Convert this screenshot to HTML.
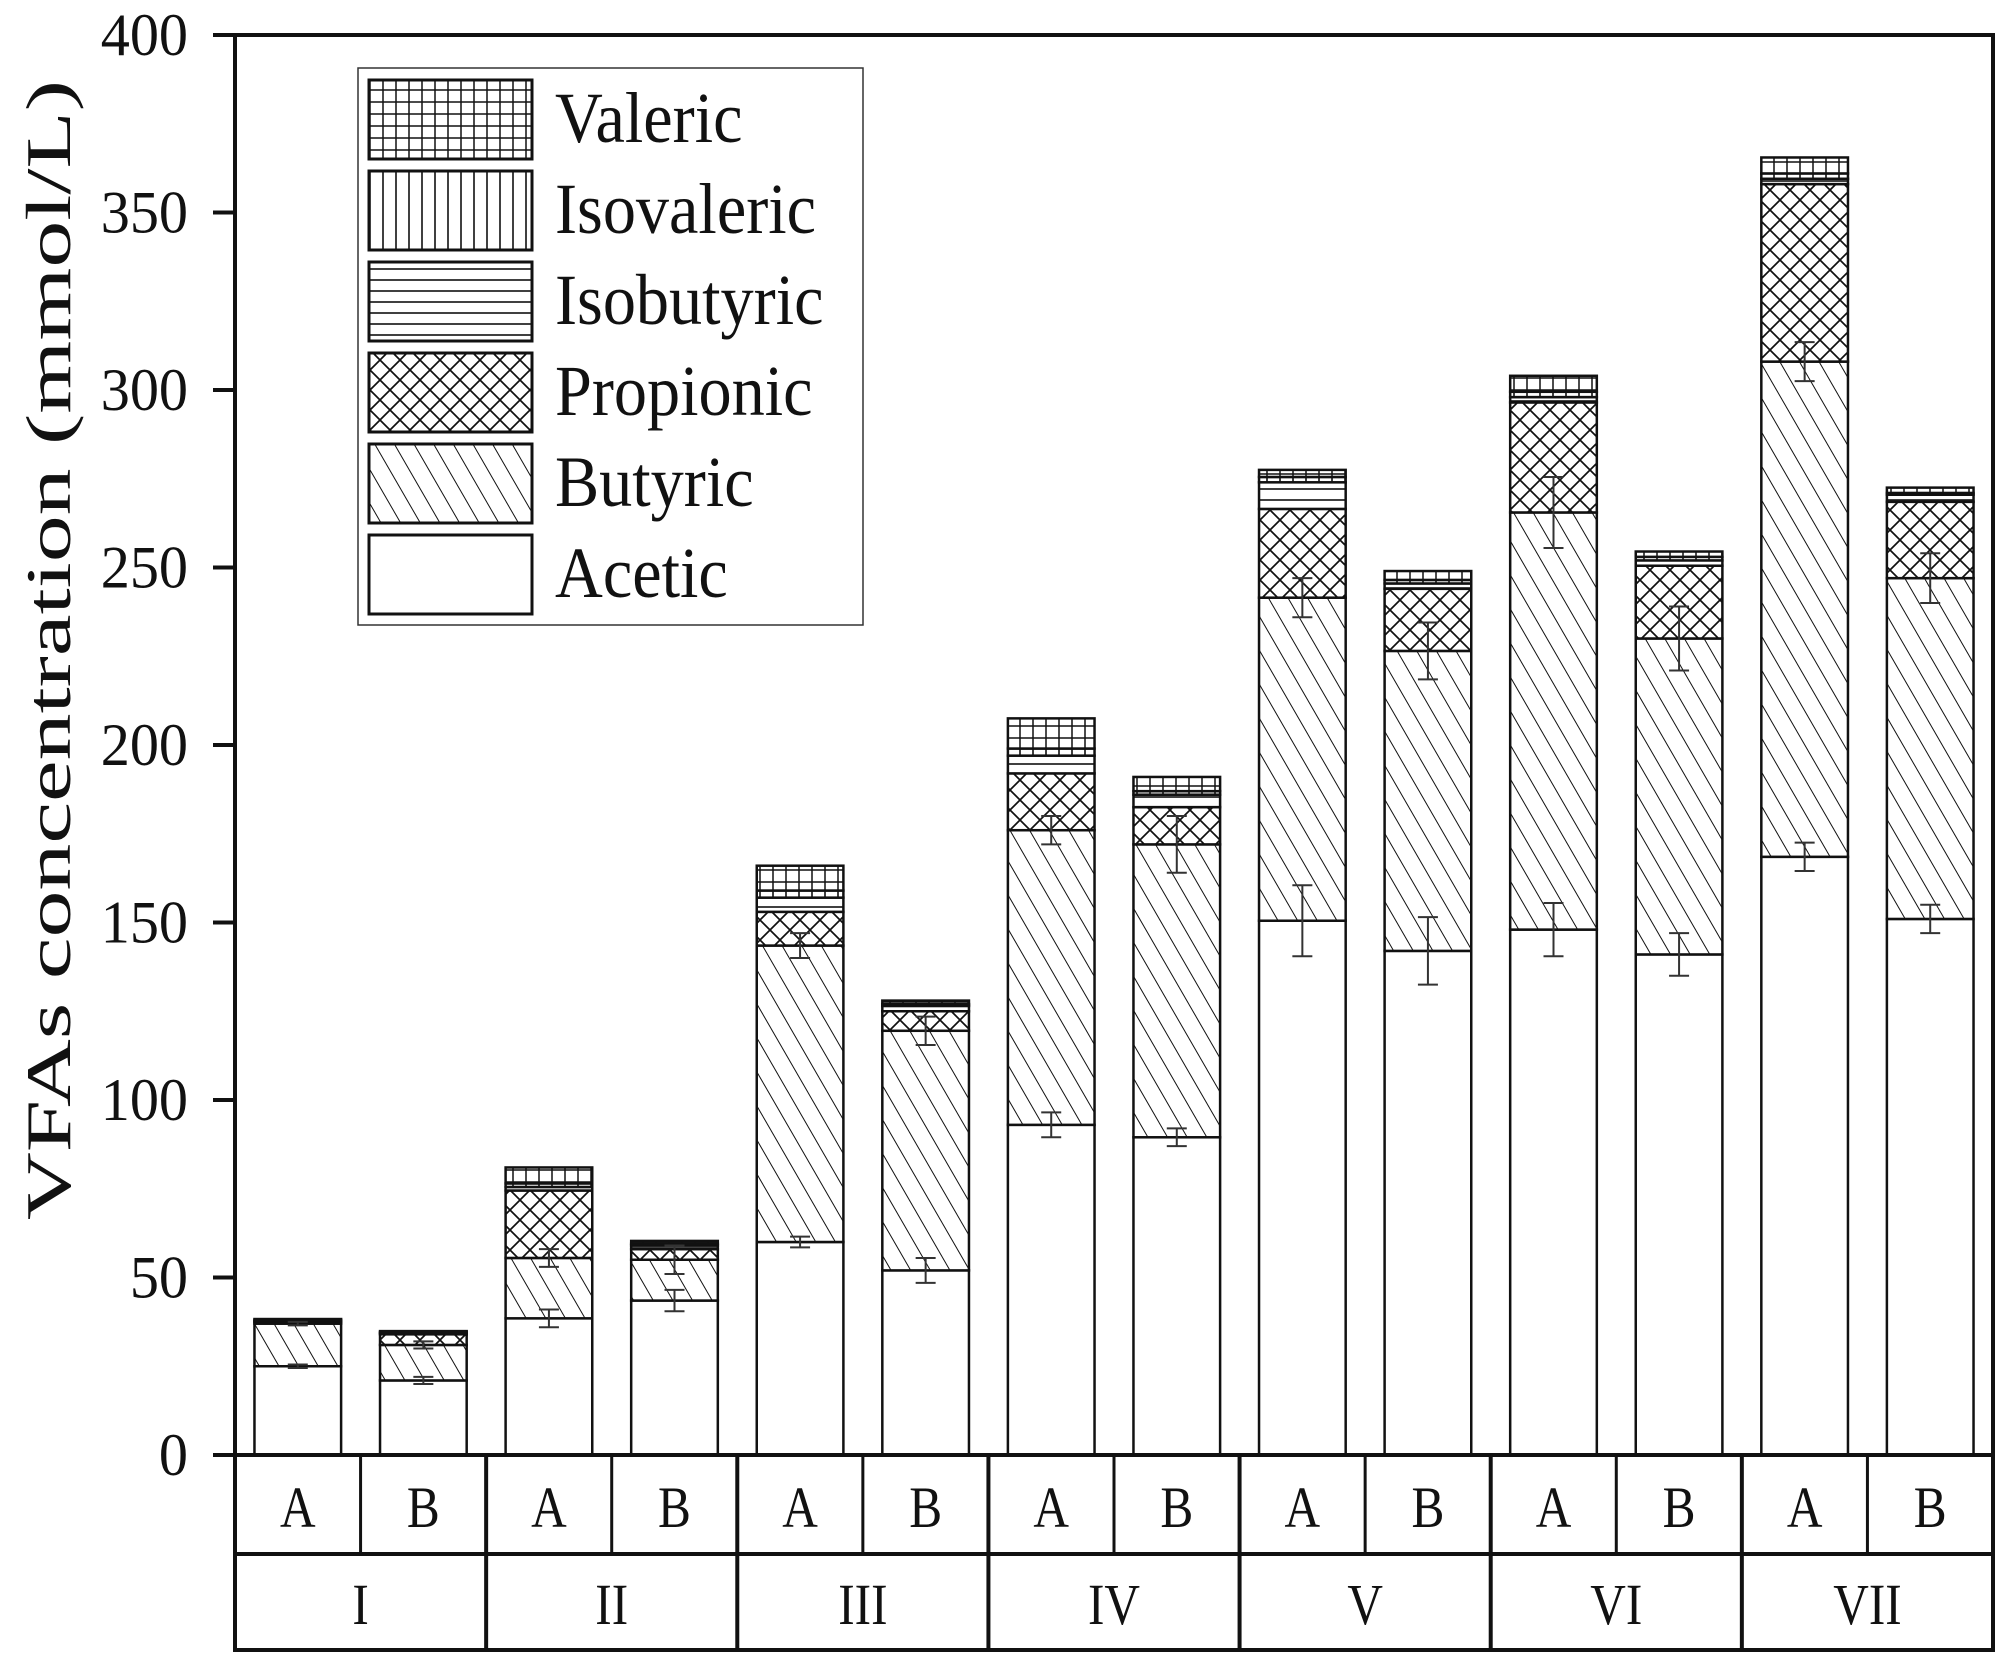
<!DOCTYPE html>
<html><head><meta charset="utf-8"><style>
html,body{margin:0;padding:0;background:#fff}
svg{display:block}
text{font-family:"Liberation Serif",serif;fill:#111}
</style></head><body>
<svg id="chart" width="2008" height="1666" viewBox="0 0 2008 1666" xmlns="http://www.w3.org/2000/svg">
<defs>
<pattern id="p-butyric" patternUnits="userSpaceOnUse" width="17" height="17" patternTransform="rotate(-30)"><rect width="17" height="17" fill="#fff"/><line x1="0" y1="0" x2="0" y2="17" stroke="#111" stroke-width="2"/></pattern>
<pattern id="p-propionic" patternUnits="userSpaceOnUse" width="20" height="20"><rect width="20" height="20" fill="#fff"/><path d="M0 0L20 20M20 0L0 20" stroke="#111" stroke-width="1.7"/></pattern>
<pattern id="p-isobutyric" patternUnits="userSpaceOnUse" width="10" height="11"><rect width="10" height="11" fill="#fff"/><line x1="0" y1="5" x2="10" y2="5" stroke="#111" stroke-width="1.6"/></pattern>
<pattern id="p-isovaleric" patternUnits="userSpaceOnUse" width="13" height="10"><rect width="13" height="10" fill="#fff"/><line x1="6" y1="0" x2="6" y2="10" stroke="#111" stroke-width="1.6"/></pattern>
<pattern id="p-valeric" patternUnits="userSpaceOnUse" width="13" height="12"><rect width="13" height="12" fill="#fff"/><line x1="6" y1="0" x2="6" y2="12" stroke="#111" stroke-width="1.5"/><line x1="0" y1="6" x2="13" y2="6" stroke="#111" stroke-width="1.5"/></pattern>
</defs>
<g id="g"></g>
</svg>
<script>
const groups = ["I","II","III","IV","V","VI","VII"];
const subs = ["A","B"];
const acetic     = [25, 21, 38.5, 43.5, 60, 52, 93, 89.5, 150.5, 142, 148, 141, 168.5, 151];
const butyric    = [12, 10, 17, 11.5, 83.5, 67.5, 83, 82.5, 91, 84.5, 117.5, 89, 139.5, 96];
const propionic  = [0.4, 3, 19, 3, 9.5, 5.5, 16, 10.5, 25, 17.5, 31, 20.5, 50, 21.5];
const isobutyric = [0.3, 0.3, 1, 1, 4, 1.5, 5, 3.5, 7.5, 1.5, 1.5, 1.5, 1.5, 2];
const isovaleric = [0.3, 0.3, 1, 0.5, 2, 0.5, 2, 1, 1.5, 1, 1.5, 1, 1.5, 0.5];
const valeric    = [0.3, 0.3, 4.5, 0.8, 7, 1, 8.5, 4, 2, 2.5, 4.5, 1.5, 4.5, 1.5];
const aceticErr  = [0.5, 1, 2.5, 3, 1.5, 3.5, 3.5, 2.5, 10, 9.5, 7.5, 6, 4, 4];
const butyricErr = [0.5, 1, 2.5, 4, 3.5, 4, 4, 8, 5.5, 8, 10, 9, 5.5, 7];
const yTicks = [0, 50, 100, 150, 200, 250, 300, 350, 400];
const seriesNames = ["Acetic","Butyric","Propionic","Isobutyric","Isovaleric","Valeric"];
const seriesData = [acetic, butyric, propionic, isobutyric, isovaleric, valeric];
const fills = ["#fff","url(#p-butyric)","url(#p-propionic)","url(#p-isobutyric)","url(#p-isovaleric)","url(#p-valeric)"];

const NS = "http://www.w3.org/2000/svg";
const g = document.getElementById("g");
const L = 235, R = 1993, T = 35, B = 1455, ymax = 400;
const y = v => B - v / ymax * (B - T);
const cellW = (R - L) / 14;
const xc = i => L + cellW * (i + 0.5);
const barW = cellW * 0.69;
function el(tag, attrs, parent) {
  const e = document.createElementNS(NS, tag);
  for (const k in attrs) e.setAttribute(k, attrs[k]);
  (parent || g).appendChild(e);
  return e;
}
function ctxt(s, x, yy, size, anchor, sx, parent) {
  const t = el("text", {x: 0, y: 0, "font-size": size, "text-anchor": anchor, transform: `translate(${x} ${yy}) scale(${sx} 1)`}, parent);
  t.textContent = s;
  return t;
}

for (let i = 0; i < 14; i++) {
  const bar = el("g", {});
  
  
  let cum = 0;
  for (let s = 0; s < 6; s++) {
    const v = seriesData[s][i];
    const r = el("rect", {x: xc(i) - barW/2, y: y(cum + v), width: barW, height: Math.max(0, y(cum) - y(cum + v)), fill: fills[s], stroke: "#111", "stroke-width": 2.5}, bar);
    
    
    cum += v;
  }
  const tops = [acetic[i], acetic[i] + butyric[i]];
  const errs = [aceticErr[i], butyricErr[i]];
  for (let k = 0; k < 2; k++) {
    const e = el("path", {d: `M${xc(i)-10} ${y(tops[k]+errs[k])}H${xc(i)+10}M${xc(i)} ${y(tops[k]+errs[k])}V${y(tops[k]-errs[k])}M${xc(i)-10} ${y(tops[k]-errs[k])}H${xc(i)+10}`, stroke: "#333", "stroke-width": 2, fill: "none"});
    
    
  }
}

const frame = el("path", {d: `M${L} ${T}H${R}V${B}M${L} ${T}V1650H${R}V${B}H${L-22}`, stroke: "#111", "stroke-width": 4, fill: "none"});


el("line", {x1: L, y1: 1554, x2: R, y2: 1554, stroke: "#111", "stroke-width": 4});
for (let i = 1; i < 14; i++) el("line", {x1: L + cellW*i, y1: B, x2: L + cellW*i, y2: 1554, stroke: "#111", "stroke-width": i%2==0 ? 4 : 3});
for (let j = 1; j < 7; j++) el("line", {x1: L + cellW*2*j, y1: 1554, x2: L + cellW*2*j, y2: 1650, stroke: "#111", "stroke-width": 4});
for (let i = 0; i < 14; i++) {
  const t = ctxt(subs[i%2], xc(i), 1527, 58, "middle", 0.85);
  
  
}
for (let j = 0; j < 7; j++) {
  const t = ctxt(groups[j], L + cellW*(2*j+1), 1624, 58, "middle", 0.85);
  
  
}
for (let k = 0; k < yTicks.length; k++) {
  const v = yTicks[k];
  el("line", {x1: L-22, y1: y(v), x2: L, y2: y(v), stroke: "#111", "stroke-width": 4});
  const t = ctxt(String(v), L-47, y(v) + 20, 60, "end", 0.97);
  
  
}
const yt = el("text", {x: 0, y: 0, "font-size": 64, "text-anchor": "middle", textLength: 1140, lengthAdjust: "spacingAndGlyphs", transform: "translate(70 650) rotate(-90)"});
yt.textContent = "VFAs concentration\u00a0(mmol/L)";



const lg = el("g", {});


el("rect", {x: 358, y: 68, width: 505, height: 557, fill: "#fff", stroke: "#333", "stroke-width": 1.5}, lg);
for (let k = 0; k < 6; k++) {
  const s = 5 - k;
  const ry = 80 + k * 91;
  el("rect", {x: 369, y: ry, width: 163, height: 79, fill: fills[s], stroke: "#111", "stroke-width": 3}, lg);
  const t = ctxt(seriesNames[s], 555, ry + 62, 72, "start", 0.92, lg);
  
  
}
</script>
</body></html>
